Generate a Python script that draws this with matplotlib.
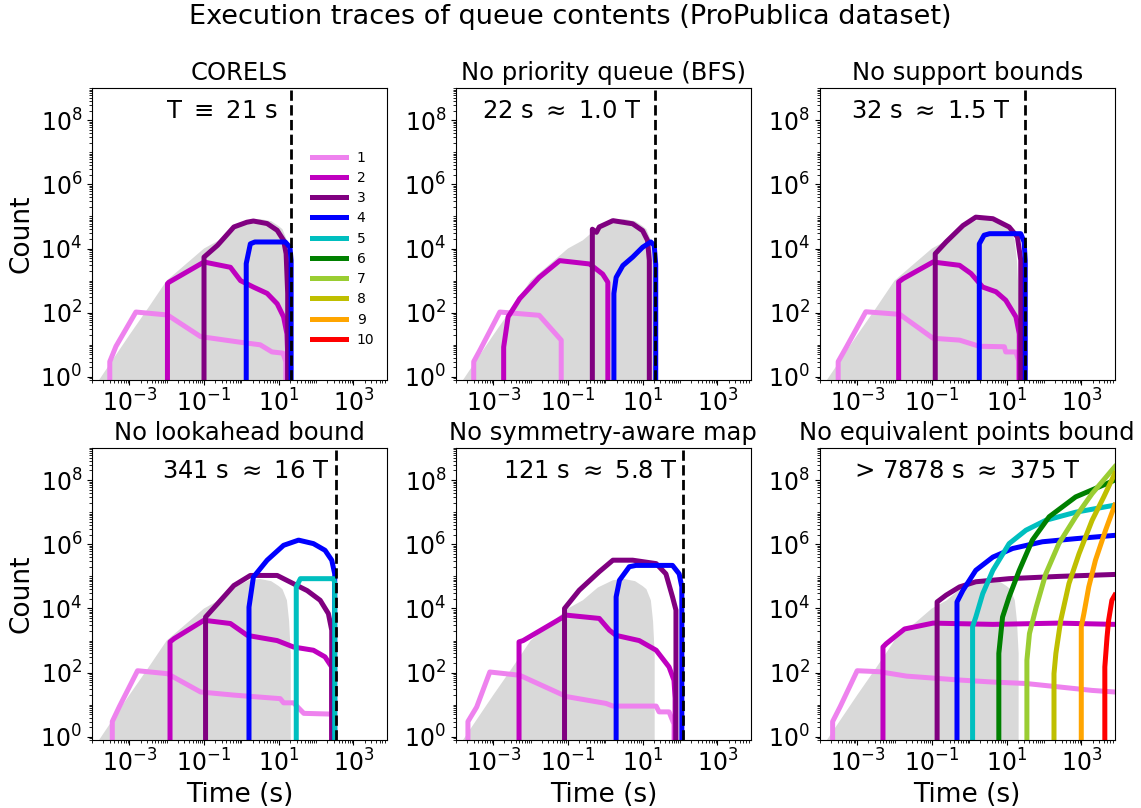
import numpy as np
import matplotlib
matplotlib.use("Agg")
import matplotlib.pyplot as plt
from matplotlib.lines import Line2D
from matplotlib.ticker import LogLocator, NullFormatter

# CORELS total queue size (grey background in every panel)
total_t = [1.26e-4, 3.2e-4, 1e-3, 3.2e-3, 0.01, 0.032, 0.1, 0.25, 0.63, 1.6, 3.2,
           6.3, 10, 12.6, 16.6, 19, 21, 21.6]
total_n = [0.56, 2.8, 20, 140, 1000, 3200, 1e4, 1.8e4, 4.5e4, 7.6e4, 8.3e4,
           7.1e4, 5e4, 4e4, 1.8e4, 4000, 400, 0]

prefix_labels = ["1", "2", "3", "4", "5", "6", "7", "8", "9", "10"]
prefix_colors = ["violet", "m", "purple", "b", "c", "g", "yellowgreen", "y", "orange", "r"]

titles = ["CORELS", "No priority queue (BFS)", "No support bounds",
          "No lookahead bound", "No symmetry-aware map", "No equivalent points bound"]
run_times = [21, 22, 32, 341, 121, None]
notes = [r"T $\equiv$ 21 s", r"22 s $\approx$ 1.0 T", r"32 s $\approx$ 1.5 T",
         r"341 s $\approx$ 16 T", r"121 s $\approx$ 5.8 T", r"> 7878 s $\approx$ 375 T"]

# queue contents per prefix length, one list per length
corels_t = [
    [3e-4, 3e-4, 4.4e-4, 1.5e-3, 0.0105, 0.081, 0.95, 3.2, 6.6, 13, 15.5, 15.5],
    [0.0105, 0.0105, 0.0115, 0.1, 0.51, 0.95, 2.1, 4.9, 9.1, 13.5, 16.6, 17.4, 17.8],
    [0.1, 0.1, 0.23, 0.63, 1.4, 2.1, 4.9, 9.1, 13.5, 15.8, 17.4, 18.6],
    [1.35, 1.35, 1.74, 2.3, 15, 20, 21.5, 22],
]
corels_n = [
    [0, 3, 9, 105, 85, 18, 12, 10, 6, 5.5, 3, 0],
    [0, 800, 890, 3800, 2600, 1000, 630, 400, 190, 74, 22, 5, 0],
    [0, 5400, 1.26e4, 4.7e4, 6.6e4, 7.2e4, 6e4, 3.7e4, 1.8e4, 6900, 400, 0],
    [0, 3400, 1.4e4, 1.6e4, 1.6e4, 1.1e4, 4300, 0],
]

bfs_t = [
    [3e-4, 3e-4, 4.4e-4, 1.5e-3, 0.017, 0.066, 0.071],
    [1.9e-3, 1.9e-3, 2.5e-3, 5.1e-3, 0.017, 0.06, 0.38, 0.85, 1.17, 1.23],
    [0.45, 0.45, 0.58, 0.69, 1.6, 5.4, 10, 13.5, 15.1, 15.8],
    [1.6, 1.7, 1.95, 2.95, 5.4, 10, 16.6, 20.4, 22.4, 22.9],
]
bfs_n = [
    [0, 3, 6.8, 105, 83, 14, 0],
    [0, 8.5, 74, 275, 1260, 4200, 3300, 1600, 890, 0],
    [0, 4e4, 3.2e4, 4.7e4, 7.4e4, 5.9e4, 3.6e4, 1.8e4, 4300, 0],
    [0, 400, 1260, 2950, 5400, 1.1e4, 1.6e4, 1.26e4, 3200, 0],
]

support_t = [
    [3.1e-4, 3.1e-4, 5.2e-4, 1.7e-3, 0.0138, 0.107, 0.55, 1.86, 8.7, 9.5, 17.8, 21, 21.9],
    [0.0129, 0.0129, 0.017, 0.107, 0.55, 1.12, 2.3, 5.2, 9.5, 17.8, 21.9, 22.9],
    [0.123, 0.123, 0.24, 0.68, 1.5, 4.3, 11.7, 19.5, 24, 27],
    [1.86, 1.86, 2.5, 3.5, 24, 29.5, 31.6, 32.4],
]
support_n = [
    [0, 3, 8.7, 107, 89, 16, 14, 9, 8.7, 6, 6, 3.2, 0],
    [0, 910, 1150, 3800, 3000, 1660, 630, 450, 245, 74, 22, 0],
    [0, 6900, 1.6e4, 5.2e4, 9.5e4, 8.5e4, 4.7e4, 2.3e4, 4300, 0],
    [0, 1.4e4, 2.6e4, 2.9e4, 2.9e4, 1.6e4, 4300, 0],
]

lookahead_t = [
    [3.5e-4, 3.5e-4, 5.4e-4, 1.66e-3, 0.0105, 0.081, 0.63, 11, 13.5, 25, 47, 295, 309],
    [0.0123, 0.0123, 0.0158, 0.1, 0.51, 1.45, 9.1, 25, 85, 174, 263, 295],
    [0.11, 0.11, 0.23, 0.63, 1.74, 9.1, 25, 58, 129, 214, 263, 295],
    [1.6, 1.6, 2.1, 4.9, 13.5, 34, 85, 174, 263, 316, 324],
    [29.5, 29.5, 38, 295, 316, 324],
]
lookahead_n = [
    [0, 3, 8.7, 115, 93, 25, 20, 15.5, 11.5, 11.5, 5.4, 5.1, 0],
    [0, 910, 1150, 4300, 3400, 1450, 1000, 630, 500, 310, 150, 0],
    [0, 5400, 1.4e4, 5.2e4, 1.07e5, 1.07e5, 5.9e4, 3.6e4, 1.8e4, 6900, 2100, 0],
    [0, 1.1e4, 9.5e4, 3.2e5, 9.3e5, 1.35e6, 1.05e6, 6.5e5, 3.2e5, 1.2e5, 0],
    [0, 4.7e4, 8.5e4, 8.5e4, 6.3e4, 0],
]

symmetry_t = [
    [2.1e-4, 2.1e-4, 3.6e-4, 8.1e-4, 5.1e-3, 0.091, 1.05, 1.6, 23, 27.5, 51, 69, 74],
    [4.9e-3, 4.9e-3, 6.3e-3, 0.091, 0.69, 1.29, 1.95, 8.1, 23, 51, 69, 74, 78],
    [0.081, 0.081, 0.2, 0.69, 1.6, 5.4, 23, 42, 63, 78, 85],
    [1.95, 1.95, 2.4, 4.4, 6.6, 63, 95, 112, 117],
]
symmetry_n = [
    [0, 3, 8.5, 105, 83, 18, 11, 9.1, 9.1, 6, 6, 2.5, 0],
    [0, 910, 1000, 6200, 4900, 2100, 1450, 1000, 500, 150, 58, 16, 0],
    [0, 1e4, 3.7e4, 1.4e5, 3.2e5, 3.2e5, 2.5e5, 1.2e5, 2.3e4, 8900, 0],
    [0, 2.3e4, 7.6e4, 2e5, 2.2e5, 2.2e5, 1.2e5, 4.7e4, 0],
]

equiv_t = [
    [2.2e-4, 2.2e-4, 3.5e-4, 1e-3, 4e-3, 0.021, 0.55, 4.3, 33, 250, 1950, 7878],
    [4.9e-3, 4.9e-3, 6e-3, 0.0186, 0.107, 4.3, 250, 7878],
    [0.138, 0.138, 0.24, 0.55, 1.5, 11.7, 250, 7878],
    [0.47, 0.47, 0.68, 1.5, 4.3, 14.5, 91, 708, 7878],
    [1.23, 1.23, 1.5, 2.3, 4.3, 11.7, 33, 112, 708, 7878],
    [6.2, 6.2, 7.8, 11.7, 21.9, 49, 138, 708, 2400, 7878],
    [35, 35, 41, 62, 112, 251, 708, 1950, 7878],
    [186, 186, 209, 282, 468, 871, 1950, 4000, 7878],
    [1000, 1000, 1175, 1585, 2400, 4470, 7878],
    [4270, 4270, 4900, 5400, 6600, 7878],
]
equiv_n = [
    [0, 3, 8.7, 115, 107, 78, 59, 51, 46, 36, 28, 25],
    [0, 630, 800, 2300, 3500, 3200, 3500, 3200],
    [0, 1.6e4, 2.6e4, 4.7e4, 6.8e4, 8.5e4, 1e5, 1.15e5],
    [0, 1.6e4, 3.7e4, 1.55e5, 4e5, 7.4e5, 1.2e6, 1.5e6, 1.9e6],
    [0, 2700, 5400, 2.9e4, 1.55e5, 1.05e6, 2.75e6, 5.6e6, 1e7, 1.66e7],
    [0, 400, 5400, 2.3e4, 1.55e5, 1.35e6, 7.2e6, 3e7, 5.5e7, 1e8],
    [0, 245, 1660, 1.1e4, 1.2e5, 1.05e6, 7.2e6, 3.8e7, 2.6e8],
    [0, 93, 400, 4300, 6e4, 5.1e5, 5.6e6, 3e7, 1.6e8],
    [0, 2700, 6900, 4.7e4, 3.2e5, 2.75e6, 1.66e7],
    [0, 150, 1300, 4300, 1.8e4, 2.6e4],
]

all_t = [corels_t, bfs_t, support_t, lookahead_t, symmetry_t, equiv_t]
all_n = [corels_n, bfs_n, support_n, lookahead_n, symmetry_n, equiv_n]
note_x = [0.44, 0.36, 0.377, 0.52, 0.455, 0.5]

fig, axes = plt.subplots(2, 3, figsize=(11.41, 8.08), dpi=100)
fig.subplots_adjust(left=0.0806, right=0.977, top=0.891, bottom=0.0842,
                    wspace=0.234, hspace=0.233)
axes = axes.ravel()

for i, ax in enumerate(axes):
    ax.set_xscale("log")
    ax.set_yscale("log")
    ax.fill_between(total_t, 1e-3, total_n, color="0.85", lw=0)
    for k in range(len(all_t[i])):
        ax.plot(all_t[i][k], all_n[i][k], color=prefix_colors[k], lw=3.6)
    if run_times[i] is not None:
        ax.axvline(run_times[i], color="k", ls="--", lw=2)
    ax.set_xlim(1e-4, 7878)
    ax.set_ylim(0.8, 1e9)
    ax.set_xticks([1e-3, 1e-1, 1e1, 1e3])
    ax.set_yticks([1, 1e2, 1e4, 1e6, 1e8])
    ax.xaxis.set_minor_locator(LogLocator(base=10, subs=np.arange(1, 10), numticks=40))
    ax.yaxis.set_minor_locator(LogLocator(base=10, subs=np.arange(1, 10), numticks=40))
    ax.xaxis.set_minor_formatter(NullFormatter())
    ax.yaxis.set_minor_formatter(NullFormatter())
    ax.tick_params(labelsize=17)
    ax.set_title(titles[i], fontsize=17.5)
    ax.text(note_x[i], 0.92, notes[i], transform=ax.transAxes, fontsize=17.5,
            ha="center", va="center")

axes[0].set_ylabel("Count", fontsize=19)
axes[3].set_ylabel("Count", fontsize=19)
for ax in axes[3:]:
    ax.set_xlabel("Time (s)", fontsize=19)

handles = [Line2D([], [], color=c, lw=3.6) for c in prefix_colors]
axes[0].legend(handles, prefix_labels, loc="center right", bbox_to_anchor=(1.0, 0.45),
               frameon=False, fontsize=10, handlelength=2.4, labelspacing=0.45)

fig.suptitle("Execution traces of queue contents (ProPublica dataset)", fontsize=19.5, y=0.995)
fig.savefig("out.png", dpi=100)
